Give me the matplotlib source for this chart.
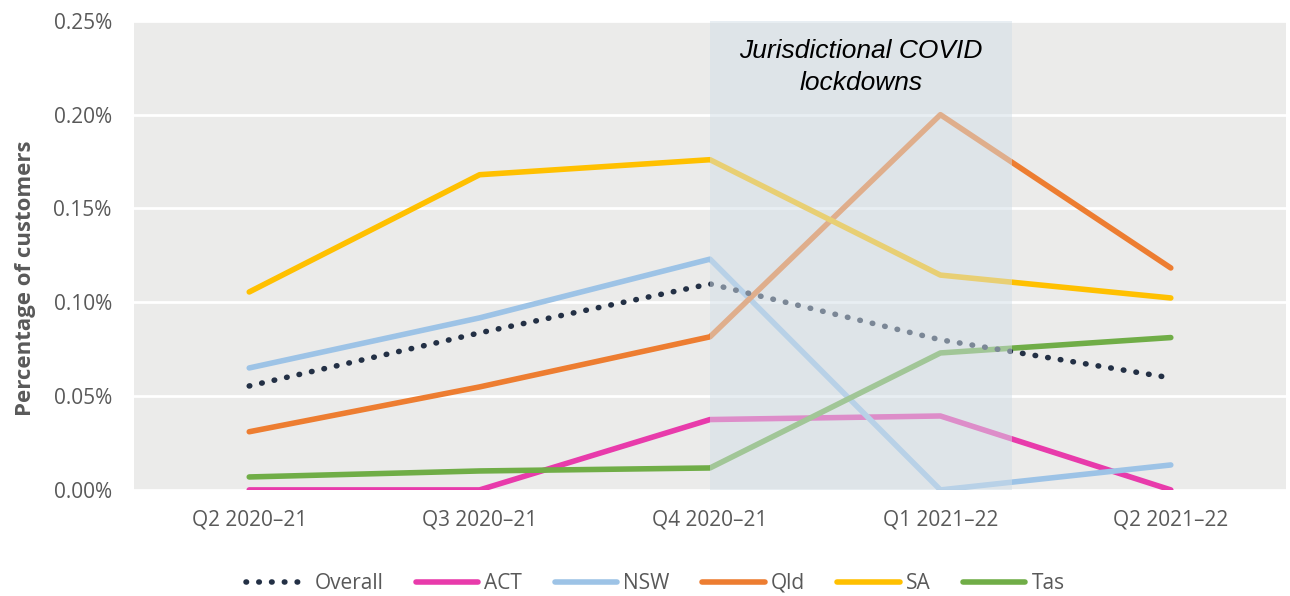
import matplotlib
matplotlib.use("Agg")
import matplotlib.pyplot as plt
from matplotlib.ticker import FuncFormatter, MultipleLocator

quarters = ["Q2 2020–21", "Q3 2020–21", "Q4 2020–21", "Q1 2021–22", "Q2 2021–22"]

# percentage of customers by jurisdiction
overall = [0.0554, 0.0837, 0.1098, 0.0800, 0.0597]
act = [0.0000, 0.0000, 0.0375, 0.0394, 0.0000]
nsw = [0.0650, 0.0917, 0.1230, 0.0000, 0.0133]
qld = [0.0310, 0.0549, 0.0816, 0.2000, 0.1183]
sa = [0.1055, 0.1680, 0.1760, 0.1145, 0.1023]
tas = [0.0069, 0.0101, 0.0117, 0.0730, 0.0812]

series = [
    ("ACT", act, "#E83BAB"),
    ("NSW", nsw, "#9DC3E6"),
    ("Qld", qld, "#ED7D31"),
    ("SA", sa, "#FFC000"),
    ("Tas", tas, "#70AD47"),
]

plt.rcParams["font.family"] = ["Open Sans", "DejaVu Sans"]

fig = plt.figure(figsize=(12.9, 5.96), dpi=100)
ax = fig.add_axes([0.1039, 0.178, 0.893, 0.787])
ax.set_facecolor("#EBEBEA")

x = list(range(len(quarters)))
handles = []
h, = ax.plot(x, overall, color="#233045", lw=4, linestyle=(0, (0.1, 2.2)),
             dash_capstyle="round", label="Overall", zorder=3)
handles.append(h)
for name, vals, col in series:
    h, = ax.plot(x, vals, color=col, lw=4, solid_capstyle="round", label=name, zorder=2)
    handles.append(h)

# lockdown period overlay
ax.axvspan(2, 3.31, color="#D3DFE8", alpha=0.5, lw=0, zorder=4)
ax.text(2.655, 0.2255, "Jurisdictional COVID\nlockdowns", ha="center", va="center",
        fontsize=19, style="italic", family="Liberation Sans", linespacing=1.4,
        color="black", zorder=5)

ax.set_xlim(-0.5, 4.5)
ax.set_ylim(0, 0.25)
ax.yaxis.set_major_locator(MultipleLocator(0.05))
ax.yaxis.set_major_formatter(FuncFormatter(lambda v, p: f"{v:.2f}%"))
ax.set_xticks(x)
ax.set_xticklabels(quarters)
ax.grid(axis="y", color="white", lw=2)
ax.set_axisbelow(True)
for s in ax.spines.values():
    s.set_visible(False)
ax.tick_params(length=0, labelsize=15, colors="#595959")
ax.tick_params(axis="x", pad=14)
ax.tick_params(axis="y", pad=16)
ax.set_ylabel("Percentage of customers", fontsize=16, fontweight="bold",
              color="#595959")
ax.yaxis.set_label_coords(-0.085, 0.452)

fig.legend(handles=handles, loc="lower center", bbox_to_anchor=(0.508, -0.028),
           ncol=6, frameon=False, fontsize=15, handlelength=3.0, columnspacing=1.55,
           handletextpad=0.3, labelcolor="#595959")

fig.savefig("out.png", dpi=100)
